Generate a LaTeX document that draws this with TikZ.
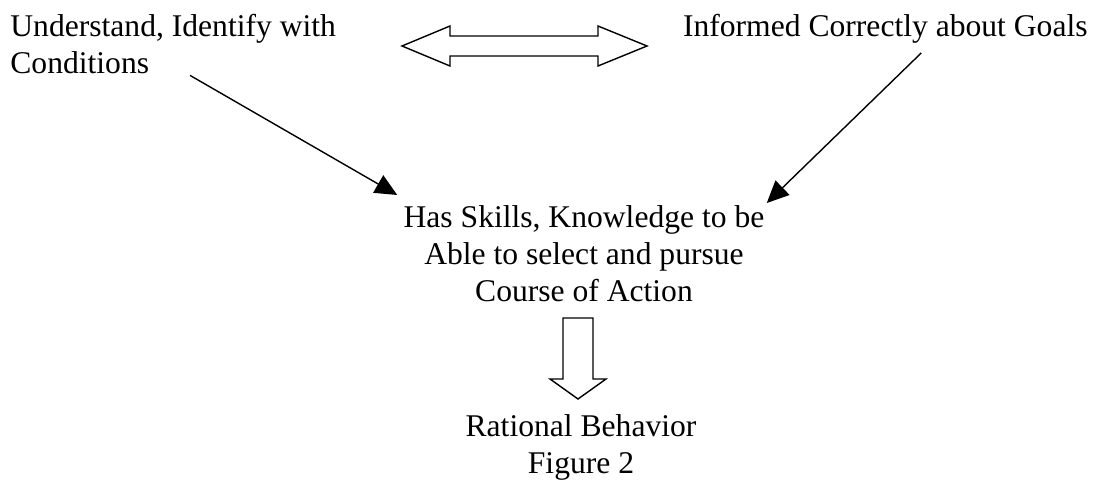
\documentclass[tikz,border=0pt]{standalone}
\usepackage{fontspec}
\setmainfont{Liberation Serif}
\usepackage{tikz}
\usetikzlibrary{arrows.meta, positioning, calc}

\begin{document}
\begin{tikzpicture}[
  x=0.5pt, y=-0.5pt,
  lbl/.style={inner sep=0pt, font=\fontsize{15.8pt}{18.5pt}\selectfont},
  arr/.style={-{Triangle[length=11pt, width=10pt]}, line width=0.7pt},
  blk/.style={draw=black, fill=white, line width=0.7pt, line join=miter},
]
  \useasboundingbox (0,0) rectangle (1096,482);

  % the four statements
  \node[lbl, anchor=north west, align=left] (under) at (10,14) {Understand, Identify with\\Conditions};
  \node[lbl, anchor=north east] (goals) at (1088,14) {Informed Correctly about Goals};
  \node[lbl, anchor=north, align=center] (skills) at (584,205) {Has Skills, Knowledge to be\\Able to select and pursue\\Course of Action};
  \node[lbl, anchor=north, align=center] (rational) at (581,414) {Rational Behavior\\Figure 2};

  % both feed into skills
  \draw[arr] ($(under.south west)+(180,1)$) -- ($(skills.north west)+(-6,-10)$);
  \draw[arr] ($(goals.south)+(36,9)$) -- ($(skills.north east)+(2,-2)$);

  % two-way block arrow
  \draw[blk] (402,46) -- (450,26) -- (450,36) -- (598,36) -- (598,26) -- (647,46)
    -- (598,66) -- (598,56) -- (450,56) -- (450,66) -- cycle;

  % down block arrow
  \draw[blk] (563,318) -- (593,318) -- (593,379) -- (606,379) -- (578,399)
    -- (550,379) -- (563,379) -- cycle;
\end{tikzpicture}
\end{document}
